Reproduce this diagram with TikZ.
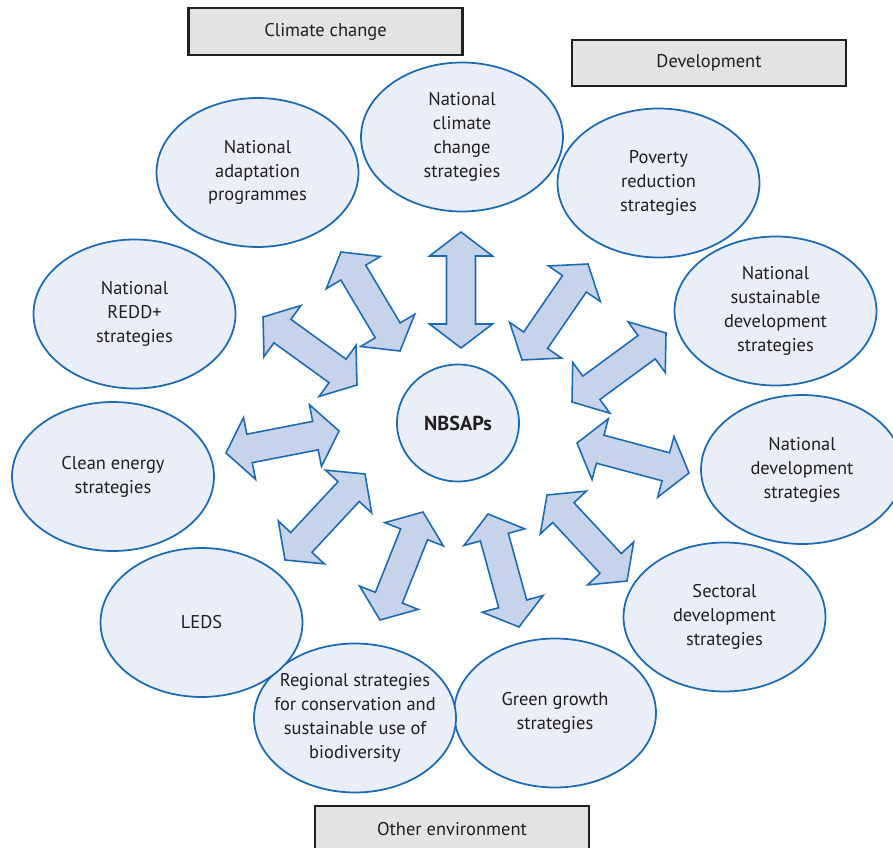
\documentclass[tikz,border=0pt]{standalone}
\usepackage{fontspec}
\setmainfont{PT Sans}
\usetikzlibrary{shapes.geometric,calc}

\definecolor{ringblue}{RGB}{28,107,178}
\definecolor{ringfill}{RGB}{233,238,248}
\definecolor{arrowfill}{RGB}{198,211,234}
\definecolor{boxgray}{RGB}{226,227,229}
\definecolor{inkgray}{RGB}{35,31,32}

\tikzset{
  strategy/.style={ellipse, draw=ringblue, fill=ringfill, line width=1pt,
    minimum width=4.04cm, minimum height=2.98cm, inner sep=0pt, align=center,
    text=inkgray, font=\fontsize{10.5}{13.6}\selectfont},
  themebox/.style={draw=inkgray, fill=boxgray, line width=1.2pt,
    minimum width=5.48cm, minimum height=0.93cm, inner sep=0pt,
    text=inkgray, font=\fontsize{10.5}{13.6}\selectfont},
  twowayarrow/.style={draw=ringblue, fill=arrowfill, line width=0.9pt, line join=miter}
}

% fat double arrow between two tips
\newcommand{\arrhead}{0.48cm}
\newcommand{\arrhalf}{0.63cm}
\newcommand{\arrshaft}{0.29cm}
\newcommand{\twoway}[2]{%
  \coordinate (#1-h) at ($(#1)!\arrhead!(#2)$);
  \coordinate (#2-h) at ($(#2)!\arrhead!(#1)$);
  \draw[twowayarrow] (#1) -- ($(#1-h)!\arrhalf!90:(#2)$) -- ($(#1-h)!\arrshaft!90:(#2)$)
    -- ($(#2-h)!\arrshaft!-90:(#1)$) -- ($(#2-h)!\arrhalf!-90:(#1)$) -- (#2)
    -- ($(#2-h)!\arrhalf!90:(#1)$) -- ($(#2-h)!\arrshaft!90:(#1)$)
    -- ($(#1-h)!\arrshaft!-90:(#2)$) -- ($(#1-h)!\arrhalf!-90:(#2)$) -- cycle;
}

\begin{document}
\begin{tikzpicture}[x=0.02cm, y=-0.02cm]
\useasboundingbox (0,0) rectangle (893,848);

% theme boxes
\node[themebox] (climbox) at (325.5,31.5) {Climate change};
\node[themebox] (devbox) at (709,63) {Development};
\node[themebox] (envbox) at (452,829) {Other environment};

% strategies
\node[strategy] (clim) at (462,137) {National\\climate\\change\\strategies};
\node[strategy] (adapt) at (257.5,172.5) {National\\adaptation\\programmes};
\node[strategy] (pov) at (658.5,183) {Poverty\\reduction\\strategies};
\node[strategy] (nsds) at (775.5,311) {National\\sustainable\\development\\strategies};
\node[strategy] (natdev) at (802,469.5) {National\\development\\strategies};
\node[strategy] (sect) at (724.5,617) {Sectoral\\development\\strategies};
\node[strategy] (green) at (555,713) {Green growth\\strategies};
\node[strategy, inner sep=-0.6cm] (regio) at (355,718) {Regional strategies\\for conservation and\\sustainable use of\\biodiversity};
\node[strategy] (leds) at (201.5,622.5) {LEDS};
\node[strategy] (clean) at (113,476.5) {Clean energy\\strategies};
\node[strategy] (redd) at (134.5,314) {National\\REDD+\\strategies};

\node[strategy, minimum width=2.44cm, minimum height=2.34cm, font=\fontsize{11.5}{13.6}\selectfont\bfseries] (nbsap) at (458,423) {NBSAPs};

% arrow tips
\coordinate (a1) at (461,232);   \coordinate (b1) at (461,348);
\coordinate (a2) at (341,252);   \coordinate (b2) at (400,351);
\coordinate (a3) at (263,317);   \coordinate (b3) at (357,385);
\coordinate (a4) at (588,264);   \coordinate (b4) at (522,360);
\coordinate (a5) at (666,333);   \coordinate (b5) at (572,402);
\coordinate (a6) at (689,473);   \coordinate (b6) at (577,443);
\coordinate (a7) at (627,581);   \coordinate (b7) at (547,495);
\coordinate (a8) at (519,627);   \coordinate (b8) at (488,514);
\coordinate (a9) at (380,620);   \coordinate (b9) at (423,512);
\coordinate (a10) at (285,560);  \coordinate (b10) at (365,474);
\coordinate (a11) at (226,453);  \coordinate (b11) at (339,431);

\foreach \k in {1,...,11}{
  \twoway{a\k}{b\k}
}
\end{tikzpicture}
\end{document}
